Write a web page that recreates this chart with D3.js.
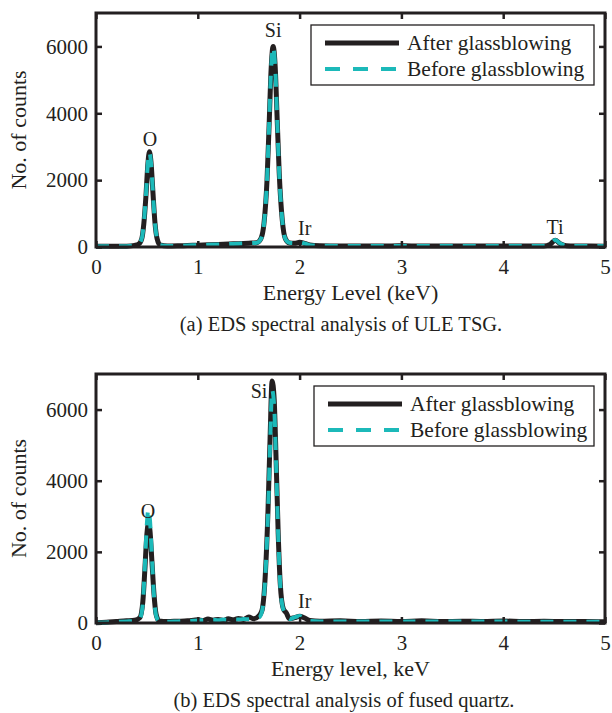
<!DOCTYPE html>
<html>
<head>
<meta charset="utf-8">
<script src="https://cdn.jsdelivr.net/npm/d3@7"></script>
<style>
  body { margin: 0; background: #fff; }
  svg text { font-family: "Liberation Serif", "Times New Roman", serif; fill: #231f20; }
</style>
</head>
<body>
<svg id="fig" width="612" height="713"></svg>
<script>
// ---- data ----
const xTicks = [0, 1, 2, 3, 4, 5];
const yTicks = [0, 2000, 4000, 6000];
const seriesNames = ["After glassblowing", "Before glassblowing"];

// (a) ULE TSG
const energyA = [0, 0.1, 0.2, 0.3, 0.38, 0.42, 0.45, 0.47, 0.49, 0.51, 0.525, 0.54, 0.56, 0.58, 0.60, 0.63,
  0.7, 0.8, 0.9, 1.0, 1.1, 1.2, 1.3, 1.4, 1.5, 1.58, 1.62, 1.65, 1.68, 1.70, 1.72, 1.74, 1.76, 1.78, 1.80,
  1.83, 1.86, 1.9, 1.95, 2.0, 2.05, 2.1, 2.2, 2.4, 2.6, 2.8, 3.0, 3.2, 3.4, 3.6, 3.8, 4.0, 4.2, 4.4, 4.46,
  4.51, 4.56, 4.62, 4.7, 4.8, 5.0];
const afterA = [20, 20, 20, 25, 50, 90, 250, 700, 1500, 2500, 2850, 2550, 1600, 700, 250, 60,
  30, 35, 45, 55, 65, 75, 90, 100, 115, 130, 250, 700, 2000, 3600, 5300, 6000, 5400, 3800, 2200,
  800, 250, 120, 110, 140, 110, 60, 40, 30, 30, 30, 35, 30, 30, 30, 30, 30, 30, 30, 80,
  200, 100, 40, 30, 30, 25];
const beforeA = [18, 20, 22, 25, 55, 95, 260, 720, 1520, 2520, 2830, 2530, 1580, 690, 240, 55,
  30, 35, 45, 55, 65, 75, 88, 100, 112, 128, 245, 690, 2020, 3620, 5320, 5980, 5380, 3780, 2180,
  790, 245, 125, 115, 140, 105, 55, 38, 30, 30, 30, 32, 30, 30, 30, 30, 30, 30, 32, 85,
  210, 105, 40, 30, 30, 25];
// element labels: energy and the count level the label sits on
const peaksA = [
  { name: "O", energy: 0.53, at: 2750 },
  { name: "Si", energy: 1.74, at: 6000 },
  { name: "Ir", energy: 2.05, at: 90 },
  { name: "Ti", energy: 4.51, at: 120 }
];

// (b) fused quartz
const energyB = [0, 0.1, 0.2, 0.3, 0.38, 0.43, 0.46, 0.48, 0.50, 0.515, 0.53, 0.55, 0.57, 0.59, 0.62,
  0.7, 0.8, 0.9, 1.0, 1.05, 1.1, 1.15, 1.2, 1.25, 1.3, 1.35, 1.4, 1.45, 1.5, 1.55, 1.6, 1.63, 1.66,
  1.69, 1.71, 1.73, 1.75, 1.77, 1.79, 1.81, 1.84, 1.87, 1.9, 1.95, 2.0, 2.05, 2.1, 2.2, 2.4, 2.6,
  2.8, 3.0, 3.2, 3.4, 3.6, 3.8, 4.0, 4.2, 4.4, 4.6, 4.8, 5.0];
const afterB = [10, 20, 40, 60, 80, 150, 600, 1500, 2500, 2800, 2600, 1700, 800, 250, 60,
  40, 50, 60, 90, 70, 110, 80, 100, 70, 120, 90, 130, 100, 170, 120, 200, 350, 1200,
  3200, 5200, 6800, 6300, 4500, 2500, 1100, 400, 280, 120, 150, 190, 140, 70, 50, 60, 40,
  55, 45, 60, 40, 50, 45, 55, 40, 50, 40, 45, 35];
const beforeB = [5, 15, 30, 45, 60, 120, 550, 1600, 2800, 3200, 2900, 1800, 750, 220, 50,
  35, 45, 55, 70, 80, 85, 90, 80, 95, 90, 100, 95, 110, 105, 130, 150, 320, 1150,
  3100, 5000, 6550, 6100, 4400, 2450, 1050, 380, 250, 110, 160, 200, 130, 60, 45, 45, 40,
  40, 40, 40, 40, 40, 40, 40, 35, 35, 35, 35, 30];
const peaksB = [
  { name: "O", energy: 0.51, at: 2700 },
  { name: "Si", energy: 1.52, at: 6070 },
  { name: "Ir", energy: 2.05, at: 180 }
];

const black = "#231f20";
const cyan = "#1cb9b9";
const svg = d3.select("#fig");

function drawPanel(p) {
  const x = d3.scaleLinear().domain([0, 5]).range([p.left, p.right]);
  const y = d3.scaleLinear().domain([0, 7000]).range([p.bottom, p.top]);
  const g = svg.append("g");

  const line = (vals) => d3.line()
    .x((d, i) => x(p.energy[i]))
    .y(d => y(d))
    .curve(d3.curveMonotoneX)(vals);

  g.append("path").attr("d", line(p.after))
    .attr("fill", "none").attr("stroke", black).attr("stroke-width", 5).attr("stroke-linejoin", "round");
  g.append("path").attr("d", line(p.before))
    .attr("fill", "none").attr("stroke", cyan).attr("stroke-width", 4).attr("stroke-dasharray", "13,10");

  // inward ticks on all four sides
  const fmt = d3.format("d");
  g.append("g").attr("transform", `translate(0,${p.bottom})`)
    .call(d3.axisBottom(x).tickValues(xTicks).tickSizeInner(-6).tickSizeOuter(0).tickPadding(12).tickFormat(fmt));
  g.append("g").attr("transform", `translate(0,${p.top})`)
    .call(d3.axisTop(x).tickValues(xTicks).tickSizeInner(-6).tickSizeOuter(0).tickFormat(""));
  g.append("g").attr("transform", `translate(${p.left},0)`)
    .call(d3.axisLeft(y).tickValues(yTicks).tickSizeInner(-6).tickSizeOuter(0).tickPadding(8).tickFormat(fmt));
  g.append("g").attr("transform", `translate(${p.right},0)`)
    .call(d3.axisRight(y).tickValues(yTicks).tickSizeInner(-6).tickSizeOuter(0).tickFormat(""));
  g.selectAll(".domain").remove();
  g.selectAll(".tick line").attr("stroke", black).attr("stroke-width", 2.5);
  g.selectAll(".tick text").attr("font-size", 21).attr("font-family", "Liberation Serif").attr("fill", black);

  g.append("rect").attr("x", p.left).attr("y", p.top)
    .attr("width", p.right - p.left).attr("height", p.bottom - p.top)
    .attr("fill", "none").attr("stroke", black).attr("stroke-width", 3);

  // peak labels
  g.selectAll(".peak").data(p.peaks).join("text")
    .attr("x", d => x(d.energy)).attr("y", d => y(d.at) - 9)
    .attr("text-anchor", d => d.name === "Si" && p.siLeft ? "start" : "middle")
    .attr("font-size", 20).text(d => d.name);

  // axis titles
  g.append("text").attr("x", (p.left + p.right) / 2).attr("y", p.bottom + 53)
    .attr("text-anchor", "middle").attr("font-size", 22).text(p.xLabel);
  g.append("text").attr("transform", `translate(26,${(p.top + p.bottom) / 2}) rotate(-90)`)
    .attr("text-anchor", "middle").attr("font-size", 22).text("No. of counts");
  g.append("text").attr("x", p.capX).attr("y", p.bottom + 84)
    .attr("text-anchor", "middle").attr("font-size", 20.5).text(p.caption);

  // legend
  const lg = g.append("g").attr("transform", `translate(${p.legX},${p.top + 12})`);
  lg.append("rect").attr("width", p.legW).attr("height", 60)
    .attr("fill", "#fff").attr("stroke", black).attr("stroke-width", 1.3);
  seriesNames.forEach((name, i) => {
    const ly = 18 + i * 26;
    lg.append("line").attr("x1", 14).attr("x2", 88).attr("y1", ly).attr("y2", ly)
      .attr("stroke", i === 0 ? black : cyan).attr("stroke-width", i === 0 ? 5 : 4)
      .attr("stroke-dasharray", i === 0 ? null : "15,13");
    lg.append("text").attr("x", 96).attr("y", ly + 7).attr("font-size", 21.5).text(name);
  });
}

drawPanel({
  left: 96, right: 605, top: 13, bottom: 247,
  energy: energyA, after: afterA, before: beforeA, peaks: peaksA,
  xLabel: "Energy Level (keV)", caption: "(a) EDS spectral analysis of ULE TSG.",
  capX: 341, legX: 311, legW: 283
});
drawPanel({
  left: 96, right: 605, top: 374, bottom: 623,
  energy: energyB, after: afterB, before: beforeB, peaks: peaksB, siLeft: true,
  xLabel: "Energy level, keV", caption: "(b) EDS spectral analysis of fused quartz.",
  capX: 344, legX: 314, legW: 280
});
</script>
</body>
</html>
